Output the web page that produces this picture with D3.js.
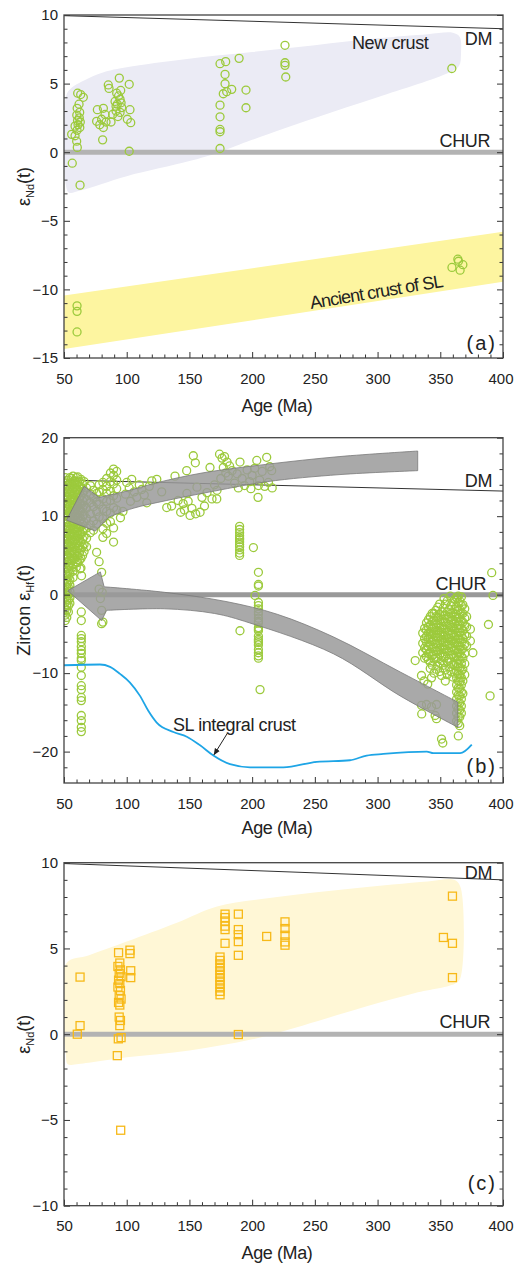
<!DOCTYPE html>
<html>
<head>
<meta charset="utf-8">
<script src="https://cdn.jsdelivr.net/npm/d3@7"></script>
<style>
body { margin: 0; background: #fff; }
svg text { font-family: "Liberation Sans", Arial, sans-serif; fill: #222; }
</style>
</head>
<body>
<svg id="chart" width="514" height="1268"></svg>
<script>
// ---- data ----
const ageTicks = [50, 100, 150, 200, 250, 300, 350, 400];
const ndTicksA = [-15, -10, -5, 0, 5, 10];
const hfTicks = [-20, -10, 0, 10, 20];
const ndTicksC = [-10, -5, 0, 5, 10];

// (a) whole-rock eNd(t) [age, eNd]
const ndA = [
  [56.6,-0.8],[62.8,-2.4],[60.9,4.3],[63.3,4.2],[65.4,4.0],[62.0,3.5],[60.5,3.2],[62.5,2.9],[60.2,2.7],
  [62.2,2.5],[60.8,2.3],[63.0,2.2],[61.2,2.0],[62.6,1.8],[60.4,1.6],[58.8,1.9],[56.1,1.3],[58.8,1.2],
  [60.1,0.8],[60.6,0.35],
  [76.6,3.1],[81.4,3.2],[82.7,2.75],[76.0,2.25],[80.0,2.4],[81.4,1.8],[83.5,2.2],[87.5,2.2],[80.8,0.9],
  [85.3,4.9],[85.9,4.65],[78.5,2.0],
  [94.1,5.4],[92.0,4.3],[95.2,4.5],[90.7,3.7],[94.7,3.85],[92.5,3.5],[96.0,3.25],[91.5,3.0],[94.7,2.9],
  [88.8,2.75],[93.5,4.1],[91.5,3.35],[95.5,3.6],[93.0,2.6],
  [102.0,4.95],[102.6,3.1],[100.5,2.4],[103.2,2.15],[102.0,0.07],
  [174.4,6.45],[178.9,6.6],[189.6,6.84],[178.4,5.67],[178.4,4.99],[183.7,4.58],[177.0,4.26],[179.7,4.41],
  [195.1,4.53],[195.1,3.24],[174.4,3.43],[174.4,2.58],[174.4,1.66],[174.4,1.49],[174.4,0.27],
  [226.2,7.79],[226.2,6.52],[226.2,6.33],[226.8,5.48],[359.2,6.1],
  [364.0,-7.8],[364.5,-7.95],[368.0,-8.2],[359.3,-8.4],[365.8,-8.6],
  [60.4,-11.2],[60.4,-11.6],[60.4,-13.1]
];
const dmNd = [[50, 9.95], [400, 9.0]];
const newCrustField = [
  [51.5,4.0],[55,4.6],[70,5.4],[84,5.9],[100,6.2],[148,6.8],[200,7.3],[250,7.8],[300,8.3],[340,8.6],
  [360,8.7],[365.5,8.4],[366.5,7.2],[365,6.3],[357,5.8],[300,4.0],[250,2.5],[200,0.9],[174,0],
  [150,-0.65],[100,-1.75],[63,-2.8],[54,-2.95],[51.5,-2.4]
];
const ancientTop = [[50,-10.45],[400,-5.8]];
const ancientBottom = [[50,-14.35],[400,-9.45]];

// (b) zircon eHf(t): dense columns [age, [eHf...]] and single spots [age, eHf]
const hfColumns = [
  [51, [14.9,14.2,13.5,12.7,12.0,11.2,10.4,9.7,9.0,8.2,7.5,6.8,6.0,5.2,4.5,3.6,2.8,2.0,1.3,0.5,-0.3,-1.0,-1.8,-2.6,-3.3]],
  [52.2, [14.55,13.85,13.1,12.35,11.6,10.8,10.05,9.3,8.55,7.85,7.1,6.4,5.6,4.85,4.1,3.3,2.5,1.7,0.9,0.2,-0.6,-1.3,-2.0,-2.9]],
  [53.5, [14.6,13.9,13.1,12.4,11.6,10.9,10.1,9.3,8.6,7.8,7.1,6.3,5.6,4.8,3.9,3.1,2.3,1.6,0.9,0.1,-0.7,-1.4,-2.2]],
  [54.7, [14.9,14.25,13.45,12.75,12.0,11.25,10.5,9.7,8.95,8.2,7.45,6.7,5.95,5.2,4.4,3.6,2.7,1.9,1.2,0.4,-0.4,-1.1]],
  [56, [14.8,14.0,13.2,12.5,11.8,11.0,10.3,9.5,8.8,8.0,7.3,6.5,5.7,5.0,4.3,3.4]],
  [57.2, [15.1,14.4,13.6,12.85,12.1,11.4,10.65,9.9,9.15,8.35,7.65,6.85,6.1,5.35,4.6,3.8,3.0,2.2]],
  [58.5, [14.5,13.7,13.0,12.2,11.4,10.6,9.9,9.1,8.4,7.6,6.9,6.1,5.4,4.6]],
  [59.8, [14.9,14.1,13.35,12.6,11.8,11.0,10.25,9.45,8.7,7.95,7.2,6.45,5.65,4.9,4.2,3.5]],
  [61, [15.0,14.3,13.4,12.8,11.9,11.3,10.5,9.8,8.9,8.1,7.4,6.6,5.9,4.9,4.1]],
  [62.3, [14.4,13.8,13.0,12.2,11.6,10.85,10.1,9.35,8.55,7.8,7.05,6.2,5.3,4.4]],
  [63.5, [14.7,13.6,12.6,11.5,10.7,9.6,8.7,7.7,6.7,5.8,4.6,3.4]],
  [64.8, [14.1,13.0,12.0,11.0,10.0,9.0,8.0,7.1,6.1,5.0]],
  [66, [14.4,13.2,12.3,11.4,10.2,9.2,8.3,7.4,6.4,5.5]],
  [68, [13.6,12.1,11.0,9.7,8.5,7.2,6.1]],
  [71, [13.9,12.8,11.7,10.3,8.9,7.9]],
  [73.5, [13.3,12.4,11.2,9.4,8.2]],
  [76, [12.9,11.8,10.6,9.0,5.4]],
  [78, [14.0,13.1,11.5,9.9,4.2]],
  [81, [14.3,13.4,12.2,10.9,9.7,8.4,7.3]],
  [84, [14.8,13.8,12.9,11.9,10.6,9.1,7.8]],
  [87, [15.5,14.4,13.2,12.0,10.4,9.3]],
  [89.5, [16.0,15.2,14.1,12.6,11.1,8.5,6.7]],
  [92, [15.7,14.6,13.5,12.3,10.8]],
  [190, [8.7,8.3,7.9,7.5,7.2,7.0,6.7,6.4,6.1,5.7,5.3,5.0]],
  [205, [2.85,1.3,1.1,-1.0,-1.4,-1.8,-2.2,-2.5,-3.0,-3.4,-3.6,-4.2,-4.4,-4.6,-5.3,-5.7,-5.9,-6.1,-6.4,-7.0,-7.4,-7.8,-8.1]],
  [63.8, [-2.2,-3.3,-5.2,-5.6,-6.0,-6.6,-7.1,-7.5,-8.1,-8.4,-9.25,-10.3,-11.6,-12.1,-13.1,-13.5,-15.4,-16.05,-16.9,-17.45]],
  [336, [-4.9,-6.2,-7.4]],
  [337.5, [-4.3,-5.6,-6.8,-8.1]],
  [339, [-3.6,-4.5,-5.3,-6.1,-7.0,-7.9]],
  [340.5, [-3.2,-4.1,-4.9,-5.7,-6.6,-7.5,-8.3]],
  [342, [-2.8,-3.9,-4.7,-5.5,-6.4,-7.3,-8.6,-9.4]],
  [343.5, [-2.4,-3.4,-4.3,-5.1,-6.0,-6.9,-7.8,-9.0]],
  [345, [-2.4,-3.3,-4.2,-5.0,-5.8,-6.7,-7.6,-8.2,-10.0]],
  [346.5, [-2.0,-2.8,-3.8,-4.6,-5.4,-6.3,-7.2,-8.1,-9.5]],
  [348, [-1.6,-2.9,-3.7,-4.6,-5.4,-6.2,-7.1,-8.0,-9.1]],
  [349.5, [-1.2,-2.5,-3.3,-4.2,-5.0,-5.9,-6.8,-7.6,-8.7,-9.8]],
  [351, [-2.2,-3.1,-4.0,-4.8,-5.7,-6.5,-7.4,-8.4,-10.3]],
  [352.5, [-1.7,-2.7,-3.5,-4.4,-5.3,-6.1,-7.0,-7.9,-9.0]],
  [354, [-1.2,-2.6,-3.5,-4.4,-5.2,-6.0,-6.9,-7.8,-9.6,-11.0]],
  [355.5, [-0.8,-2.2,-3.1,-4.0,-4.8,-5.6,-6.5,-7.3,-8.5,-10.2]],
  [357, [-1.9,-2.8,-3.8,-4.6,-5.5,-6.3,-7.2,-8.1,-9.2]],
  [358.5, [-1.4,-2.4,-3.4,-4.2,-5.1,-5.9,-6.8,-7.7,-8.6,-9.8]],
  [360, [-0.9,-2.3,-3.2,-4.1,-4.9,-5.8,-6.6,-7.6,-8.9,-10.5]],
  [361.5, [-0.6,-1.9,-2.8,-3.7,-4.5,-5.4,-6.2,-7.1,-8.0,-9.0,-10.0]],
  [363, [-0.4,-1.5,-2.5,-3.4,-4.3,-5.2,-6.1,-7.0,-7.9,-8.8,-9.7,-10.6,-11.5,-12.4,-13.3,-14.2,-15.1,-16.1]],
  [364.3, [-0.2,-1.0,-2.0,-3.0,-3.9,-4.8,-5.6,-6.5,-7.4,-8.3,-9.2,-10.1,-11.0,-11.9,-12.8,-13.7,-14.6,-15.6,-16.4]],
  [365.5, [-0.8,-1.9,-2.9,-3.9,-4.8,-5.7,-6.6,-7.5,-8.4,-9.3,-10.2,-11.1,-12.0,-12.9,-13.8,-14.7,-15.6,-16.7]],
  [366.8, [-0.3,-1.4,-2.4,-3.4,-4.3,-5.2,-6.1,-7.0,-7.9,-8.8,-9.7,-10.6,-11.5,-12.4,-13.3,-14.2,-15.1]],
  [368, [-1.3,-2.4,-3.5,-4.6,-5.6,-6.9,-8.1,-9.5,-11.0,-12.6]],
  [369.5, [-1.8,-3.0,-4.0,-5.1,-6.3,-7.5,-8.8,-10.2]],
  [371, [-2.8,-4.1,-5.3,-6.5]],
  [374, [-4.4,-5.9]]
];
const hfSpots = [
  [62.8,3.3],[64,2.4],[95,9.8],[97,10.6],[80,2.85],[78,0.7],[80.5,0.3],[79,-0.5],[80,-2.0],[81,-3.5],[80,-3.7],
  [100,14.3],[102,13.6],[104,14.7],[106,13.1],[108,12.4],[110,14.0],[112,13.4],[114,12.7],[116,11.7],
  [103,11.9],[99,12.8],[118,13.8],[120,14.5],[124,14.7],[127.9,13.1],[131.9,11.1],[135.8,11.3],
  [138.5,15.1],[141,12.0],[143,10.5],[145,11.6],[147.8,15.8],[148,12.9],[150.5,10.1],[152,11.0],
  [153.1,17.7],[154.7,16.8],[156,13.7],[158.5,10.5],[160,12.4],[162,11.3],[164,13.0],[166.4,16.2],
  [168,12.2],[170,14.0],[171.8,12.2],[172,13.3],[146,10.8],[155,10.3],[149,11.9],
  [174,17.9],[176,17.4],[178,17.6],[180,16.9],[182,16.4],[177,16.2],[179,15.5],[181,15.1],[175,14.8],[184,15.8],
  [186,14.2],[188,15.4],[190.3,16.9],[192,14.8],[194,13.9],[196,15.9],[198,14.4],[200,15.2],[202,16.1],
  [203.7,17.1],[204.7,12.4],[206,14.6],[208,15.7],[210,13.8],[211.6,17.5],[213,14.3],[214,16.3],
  [215.6,15.8],[216,13.6],[205,13.9],[199,13.5],[189,13.6],[201,6.0],[202.3,-0.1],[190.3,-4.6],[206.3,-12.1],
  [330,-8.4],[335,-10.3],[337,-11.0],[340,-11.4],[343,-10.6],[335,-14.1],[339,-14.0],[343,-14.3],[347,-14.0],
  [335.2,-15.2],[345.9,-15.4],[347,-15.8],[351,-18.4],[352,-18.9],[364.4,-18.0],[358,-0.2],[353,-0.5],
  [376,-7.4],[388.4,-3.8],[389.7,-12.9],[391,2.8],[392,-0.1]
];
const dmHf = [[52, 14.6], [400, 13.2]];
const slCrustAge = [49.5,78.7,86.7,94.7,102.6,110.6,117.2,123.9,137.2,147.9,158.5,169.1,182.4,198.3,224.9,251.5,278,291.3,304.6,339.2,344.5,365.8,375.1];
const slCrustEps = [-9.0,-8.9,-9.2,-10.1,-11.2,-12.9,-14.8,-16.3,-17.5,-18.1,-19.2,-20.5,-21.6,-22.0,-22.0,-21.3,-21.1,-20.5,-20.3,-20.0,-20.2,-20.2,-19.1];
// trend arrows (upper edge, head, lower edge) in [age, eHf]
const arrowUpper = {
  top: [[332,18.3],[270,17.6],[211,16.6],[160,15.5],[125,14.3],[100,13.2],[78,12.4]],
  head: [[66,13.8],[52,9.5],[75,8.1]],
  bottom: [[86,9.9],[105,11.0],[132,12.0],[170,13.2],[212,14.4],[270,15.3],[332,15.8]]
};
const arrowLower = {
  top: [[364,-13.7],[318,-9.85],[265,-5.4],[220,-2.5],[180,-0.9],[130,0.3],[82,1.0]],
  head: [[79,2.9],[53,0.5],[80,-3.3]],
  bottom: [[84,-2.0],[130,-1.8],[170,-2.4],[198,-3.6],[265,-7.55],[318,-12.9],[364,-16.9]]
};

// (c) whole-rock eNd(t)
const ndC = [
  [62.8,3.33],[62.8,0.5],[60.6,0.0],
  [93.5,4.75],[94.5,4.15],[93,3.95],[95,3.75],[94,3.55],[95.5,3.35],[93.5,3.15],[94.5,2.95],[93,2.75],
  [95,2.55],[94,2.25],[95.5,2.05],[93.5,1.85],[94.5,1.7],[94,1.0],[95,0.8],[94.5,0.5],[93.3,-0.27],
  [95.5,-0.2],[92.5,-1.25],[95.2,-5.6],
  [102.6,4.9],[102.6,4.7],[103.2,3.7],[103.2,3.3],
  [174.4,4.5],[174.4,4.3],[174.4,4.1],[174.4,3.9],[174.4,3.7],[174.4,3.5],[174.4,3.3],[174.4,3.1],
  [174.4,2.9],[174.4,2.7],[174.4,2.5],[174.4,2.3],
  [178.4,7.0],[178.4,6.8],[178.4,6.6],[178.4,6.3],[178.4,6.1],[178.4,5.3],
  [189,7.0],[189,6.1],[189,5.8],[189,5.4],[189,4.6],[189,-0.02],
  [211.6,5.7],
  [226.2,6.55],[226.2,6.16],[226.2,5.77],[226.2,5.38],[226.2,5.19],
  [352.5,5.64],[359.7,8.05],[359.7,5.3],[359.7,3.3]
];
const fieldC = [
  [51.5,4.1],[70,4.6],[100,5.4],[140,6.5],[172,7.45],[220,8.0],[280,8.5],[340,8.9],[361,9.0],
  [366,8.6],[366.5,3.4],[363,3.0],[330,2.4],[290,1.6],[240,0.5],[200,-0.3],[150,-0.95],[100,-1.35],
  [60,-1.75],[53,-1.75],[51.5,-1.2]
];

// ---- drawing ----
const svg = d3.select("#chart");
const x = d3.scaleLinear().domain([50, 400]).range([64, 503]);
const minorAges = d3.range(60, 400, 10).filter(d => d % 50 !== 0);

function makePanel(id, top, bottom, domain) {
  const y = d3.scaleLinear().domain(domain).range([bottom, top]);
  const g = svg.append("g");
  g.append("clipPath").attr("id", "clip-" + id)
    .append("rect").attr("x", x(50)).attr("y", top)
    .attr("width", x(400) - x(50)).attr("height", bottom - top);
  const plot = g.append("g").attr("clip-path", `url(#clip-${id})`);
  return { g, plot, y, top, bottom };
}

function drawAxes(p, majors, minors, yTitle, xTitleY, tag, tagY) {
  const { g, y, top, bottom } = p;
  const styleAxis = sel => {
    sel.select(".domain").remove();
    sel.selectAll("line").attr("stroke", "#333").attr("stroke-width", 1);
    sel.selectAll("text").attr("font-size", 15).attr("fill", "#333")
      .attr("font-family", "'Liberation Sans', Arial, sans-serif");
  };
  const bx = g.append("g").attr("transform", `translate(0,${bottom})`)
    .call(d3.axisBottom(x).tickValues(ageTicks).tickSize(-6).tickPadding(15).tickFormat(d3.format("d")))
    .call(styleAxis);
  // last label sits flush with the right edge, as in the original
  bx.selectAll("text").filter(d => d === 400).attr("text-anchor", "end").attr("x", 10);
  g.append("g").attr("transform", `translate(0,${bottom})`)
    .call(d3.axisBottom(x).tickValues(minorAges).tickSize(-3.5).tickFormat(""))
    .call(styleAxis);
  g.append("g").attr("transform", `translate(${x(50)},0)`)
    .call(d3.axisLeft(y).tickValues(majors).tickSize(-6).tickPadding(6).tickFormat(d3.format("d")))
    .call(styleAxis);
  g.append("g").attr("transform", `translate(${x(50)},0)`)
    .call(d3.axisLeft(y).tickValues(minors).tickSize(-3.5).tickFormat(""))
    .call(styleAxis);
  g.append("g").attr("transform", `translate(${x(400)},0)`)
    .call(d3.axisRight(y).tickValues(majors).tickSize(-6).tickFormat(""))
    .call(styleAxis);
  g.append("g").attr("transform", `translate(${x(400)},0)`)
    .call(d3.axisRight(y).tickValues(minors).tickSize(-3.5).tickFormat(""))
    .call(styleAxis);

  g.append("rect").attr("x", x(50)).attr("y", top)
    .attr("width", x(400) - x(50)).attr("height", bottom - top)
    .attr("fill", "none").attr("stroke", "#444").attr("stroke-width", 1.3);

  g.append("text").attr("x", 277).attr("y", xTitleY)
    .attr("text-anchor", "middle").attr("font-size", 18).attr("letter-spacing", -0.4)
    .text("Age (Ma)");

  const t = g.append("text")
    .attr("transform", `translate(30,${(top + bottom) / 2}) rotate(-90)`)
    .attr("text-anchor", "middle").attr("font-size", 18);
  t.append("tspan").text(yTitle[0]);
  t.append("tspan").attr("font-size", 11).attr("dy", 4).text(yTitle[1]);
  t.append("tspan").attr("dy", -4).text("(t)");

  g.append("text").attr("x", 497).attr("y", tagY).attr("text-anchor", "end")
    .attr("font-size", 20).attr("letter-spacing", 2).text(tag);
}

function label(g, txt, px, py, size, anchor) {
  return g.append("text").attr("x", px).attr("y", py).attr("font-size", size || 18)
    .attr("text-anchor", anchor || "start").attr("letter-spacing", -0.4).text(txt);
}

function refLines(p, dm) {
  const line = d3.line().x(d => x(d[0])).y(d => p.y(d[1]));
  p.plot.append("path").attr("d", line(dm)).attr("fill", "none")
    .attr("stroke", "#333").attr("stroke-width", 1);
}
function churLine(p, color) {
  p.plot.append("line").attr("x1", x(50)).attr("x2", x(400))
    .attr("y1", p.y(0)).attr("y2", p.y(0))
    .attr("stroke", color).attr("stroke-width", 5);
}

// ---------- panel (a) ----------
const pa = makePanel("a", 15, 358, [-15, 10]);
const fieldLine = y => d3.line().x(d => x(d[0])).y(d => y(d[1])).curve(d3.curveCatmullRomClosed.alpha(0.5));
pa.plot.append("path").attr("d", fieldLine(pa.y)(newCrustField)).attr("fill", "#ebebf5");
pa.plot.append("path")
  .attr("d", d3.line().x(d => x(d[0])).y(d => pa.y(d[1]))(ancientTop.concat(ancientBottom.slice().reverse())) + "Z")
  .attr("fill", "#fdf5a0");
refLines(pa, dmNd);
churLine(pa, "#b3b3b3");
pa.plot.append("g").selectAll("circle").data(ndA).join("circle")
  .attr("cx", d => x(d[0])).attr("cy", d => pa.y(d[1])).attr("r", 4)
  .attr("fill", "none").attr("stroke", "#9cca3c").attr("stroke-width", 1.3);
drawAxes(pa, ndTicksA, d3.range(-14, 10, 1).filter(d => d % 5 !== 0), ["ε", "Nd"], 412, "(a)", 350);
label(pa.g, "New crust", 352, 49);
label(pa.g, "DM", 492, 45, 18, "end");
label(pa.g, "CHUR", 490, 147, 18, "end");
label(pa.g, "Ancient crust of SL", 0, 0, 18)
  .attr("transform", `translate(311,309) rotate(-9.5)`).attr("letter-spacing", -0.9);

// ---------- panel (b) ----------
const pb = makePanel("b", 437.7, 783, [-24, 20]);
refLines(pb, dmHf);
churLine(pb, "#999");
const hfAll = hfColumns.flatMap(c => c[1].map(v => [c[0], v])).concat(hfSpots);
pb.plot.append("g").selectAll("circle").data(hfAll).join("circle")
  .attr("cx", d => x(d[0])).attr("cy", d => pb.y(d[1])).attr("r", 4)
  .attr("fill", "none").attr("stroke", "#9cca3c").attr("stroke-width", 1.3);

function arrowPath(a, y) {
  const smooth = d3.line().x(d => x(d[0])).y(d => y(d[1])).curve(d3.curveCatmullRom);
  const straight = d3.line().x(d => x(d[0])).y(d => y(d[1]));
  return smooth(a.top) + straight(a.head).replace(/^M/, "L") + smooth(a.bottom).replace(/^M/, "L") + "Z";
}
[arrowUpper, arrowLower].forEach(a => {
  pb.plot.append("path").attr("d", arrowPath(a, pb.y))
    .attr("fill", "#9a9a9a").attr("fill-opacity", 0.85)
    .attr("stroke", "#7a7a7a").attr("stroke-width", 0.8);
});
const slData = slCrustAge.map((a, i) => [a, slCrustEps[i]]);
pb.plot.append("path")
  .attr("d", d3.line().x(d => x(d[0])).y(d => pb.y(d[1])).curve(d3.curveMonotoneX)(slData))
  .attr("fill", "none").attr("stroke", "#1ea5e6").attr("stroke-width", 1.8);
drawAxes(pb, hfTicks, d3.range(-22, 20, 2).filter(d => d % 10 !== 0), ["Zircon ε", "Hf"], 834, "(b)", 773);
label(pb.g, "DM", 492, 487, 18, "end");
label(pb.g, "CHUR", 486, 590, 18, "end");
label(pb.g, "SL integral crust", 173, 731, 18);
pb.g.append("defs").append("marker").attr("id", "ah").attr("viewBox", "0 0 10 10")
  .attr("refX", 9).attr("refY", 5).attr("markerWidth", 7).attr("markerHeight", 7)
  .attr("orient", "auto").append("path").attr("d", "M0,1L10,5L0,9Z").attr("fill", "#222");
pb.g.append("line")
  .attr("x1", x(180.5)).attr("y1", pb.y(-17.6)).attr("x2", x(169.6)).attr("y2", pb.y(-20.4))
  .attr("stroke", "#222").attr("stroke-width", 1).attr("marker-end", "url(#ah)");

// ---------- panel (c) ----------
const pc = makePanel("c", 862.7, 1205.7, [-10, 10]);
pc.plot.append("path").attr("d", fieldLine(pc.y)(fieldC)).attr("fill", "#fff7d6");
refLines(pc, dmNd);
churLine(pc, "#b3b3b3");
pc.plot.append("g").selectAll("rect").data(ndC).join("rect")
  .attr("x", d => x(d[0]) - 4).attr("y", d => pc.y(d[1]) - 4).attr("width", 8).attr("height", 8)
  .attr("fill", "none").attr("stroke", "#f7b918").attr("stroke-width", 1.3);
drawAxes(pc, ndTicksC, d3.range(-9, 10, 1).filter(d => d % 5 !== 0), ["ε", "Nd"], 1259, "(c)", 1190);
label(pc.g, "DM", 492, 879, 18, "end");
label(pc.g, "CHUR", 490, 1028, 18, "end");
</script>
</body>
</html>
